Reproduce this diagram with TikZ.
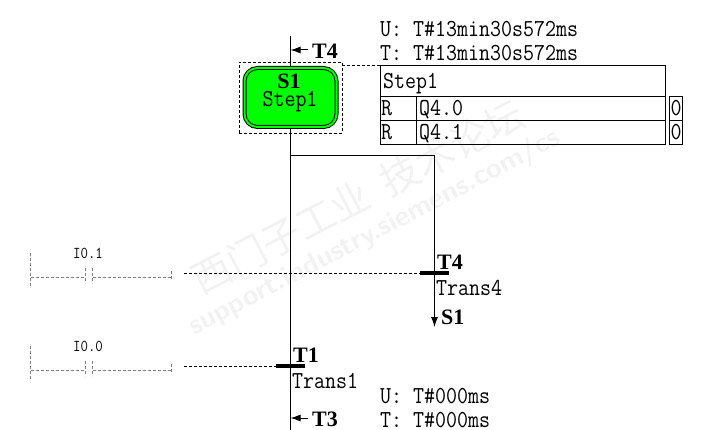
\documentclass[tikz,border=0pt]{standalone}
\usepackage{fontspec}
\usetikzlibrary{arrows.meta}
\setmainfont{Liberation Serif}
\setmonofont[FakeStretch=0.875]{Latin Modern Mono}
\newfontfamily\cjk{Noto Sans CJK SC}
\definecolor{stepgreen}{RGB}{0,255,0}
\definecolor{railgray}{RGB}{128,128,128}
\definecolor{markgray}{RGB}{242,242,242}
\tikzset{
	mono/.style={font=\ttfamily\fontsize{24.4}{24.4}\selectfont, inner sep=0pt, anchor=base west},
	tag/.style={font=\bfseries\fontsize{22}{22}\selectfont, inner sep=0pt, anchor=base west},
	small/.style={font=\ttfamily\fontsize{16.6}{16.6}\selectfont, inner sep=0pt, anchor=base},
	cell/.style={draw, line width=1pt, minimum height=24pt, inner sep=0pt, outer sep=0pt, anchor=north west},
	point/.style={inner sep=0pt, outer sep=0pt},
	bar/.style={line width=4pt},
	rail/.style={railgray, line width=.8pt, dash pattern=on 3pt off 2pt},
	wire/.style={line width=.9pt, dash pattern=on 3pt off 2pt},
	flow/.style={line width=1pt},
	tip/.style={-{Latex[length=10pt,width=7pt]}, line width=1pt}
}
\begin{document}
\begin{tikzpicture}[x=1pt, y=-1pt]
	\useasboundingbox (0, 0) rectangle (727, 430);
	
	\draw node[rotate=27.6, markgray, font=\cjk\fontsize{39}{39}\selectfont, inner sep=0pt] at (358, 197) (markcn) {西门子工业\ \ 技术论坛};
	\draw node[rotate=27.6, markgray, font=\sffamily\bfseries\fontsize{28}{28}\selectfont, inner sep=0pt] at (375, 233) (markweb) {support.industry.siemens.com/cs};
	
	\draw node[point] at (290.5, 36) (top) {};
	\draw node[point] at (290.5, 430) (bottom) {};
	\draw node[point] at (290.5, 155.5) (fork) {};
	\draw node[point] at (434.5, 155.5) (corner) {};
	\draw node[point] at (434.5, 327) (jump) {};
	\draw node[point] at (434.5, 273) (t4) {};
	\draw node[point] at (276, 366) (t1left) {};
	\draw node[point] at (305, 366) (t1right) {};
	\draw node[point] at (420, 273) (t4left) {};
	\draw node[point] at (449, 273) (t4right) {};
	
	\draw [flow]   (top) -- (bottom);
	\draw [flow]   (fork.center) -- (corner.center) -- (t4.center);
	\draw [tip]    (t4.center) -- (jump.center);
	\draw [bar]    (t1left.center) -- (t1right.center);
	\draw [bar]    (t4left.center) -- (t4right.center);
	
	\draw node[draw, line width=.7pt, dash pattern=on 3pt off 2pt, minimum width=103pt, minimum height=71pt, inner sep=0pt, outer sep=0pt] at (290.8, 97.8) (select) {};
	\draw node[draw, line width=1pt, fill=stepgreen, double=stepgreen, double distance=2pt, rounded corners=13pt, minimum width=92pt, minimum height=59pt, inner sep=0pt] at (290.5, 97.5) (step1) {};
	\draw node[tag, anchor=base] at (289, 89) (s1name) {S1};
	\draw node[mono, anchor=base] at (290, 107) (s1text) {Step1};
	
	\draw node[point] at (308, 50) (t4in) {};
	\draw node[point] at (308, 418) (t3in) {};
	\draw [tip]    (t4in.center) -- (top |- t4in);
	\draw [tip]    (t3in.center) -- (top |- t3in);
	\draw node[tag] at (312, 59) (t4from) {T4};
	\draw node[tag] at (312, 426) (t3from) {T3};
	
	\draw node[mono] at (380, 37) (uhead) {U: T\#13min30s572ms};
	\draw node[mono] at (380, 61) (thead) {T: T\#13min30s572ms};
	\draw node[cell, minimum width=285pt, minimum height=31pt] at (380.5, 65.5) (title) {};
	\draw node[cell, minimum width=36pt] at (380.5, 96.5) (r1) {};
	\draw node[cell, minimum width=249pt] at (416.5, 96.5) (q1) {};
	\draw node[cell, minimum width=36pt] at (380.5, 120.5) (r2) {};
	\draw node[cell, minimum width=249pt] at (416.5, 120.5) (q2) {};
	\draw node[cell, minimum width=13pt] at (669.5, 96.5) (o1) {};
	\draw node[cell, minimum width=13pt] at (669.5, 120.5) (o2) {};
	\draw node[mono] at (383, 89) (titletext) {Step1};
	\draw node[mono] at (381, 116) (r1text) {R};
	\draw node[mono] at (419, 116) (q1text) {Q4.0};
	\draw node[mono] at (381, 140) (r2text) {R};
	\draw node[mono] at (419, 140) (q2text) {Q4.1};
	\draw node[mono] at (670.5, 116) (o1text) {0};
	\draw node[mono] at (670.5, 140) (o2text) {0};
	\draw [wire]   (select.east |- title.north west) -- (title.north west);
	
	\draw node[tag] at (437, 269) (t4name) {T4};
	\draw node[mono] at (436, 295) (t4text) {Trans4};
	\draw node[tag] at (441, 324) (t4to) {S1};
	\draw node[tag] at (293, 362) (t1name) {T1};
	\draw node[mono] at (292, 388) (t1text) {Trans1};
	\draw node[mono] at (380, 403) (ulow) {U: T\#000ms};
	\draw node[mono] at (380, 427) (tlow) {T: T\#000ms};
	
	\foreach \y/\name/\lab in {0/one/I0.1, 93/zero/I0.0} {
		\draw node[small] at (88, 258+\y) (lab\name) {\lab};
		\draw node[point] at (30.5, 253+\y) (railtop\name) {};
		\draw node[point] at (30.5, 286+\y) (railend\name) {};
		\draw node[point] at (30.5, 277.5+\y) (railmid\name) {};
		\draw node[point] at (85.5, 277.5+\y) (conl\name) {};
		\draw node[point] at (85.5, 268+\y) (conlt\name) {};
		\draw node[point] at (85.5, 283+\y) (conlb\name) {};
		\draw node[point] at (92.5, 277.5+\y) (conr\name) {};
		\draw node[point] at (92.5, 268+\y) (conrt\name) {};
		\draw node[point] at (92.5, 283+\y) (conrb\name) {};
		\draw node[point] at (171.5, 277.5+\y) (wend\name) {};
		\draw node[point] at (171.5, 271+\y) (wendt\name) {};
		\draw node[point] at (171.5, 280+\y) (wendb\name) {};
		\draw node[point] at (184, 273+\y) (wstart\name) {};
		\draw [rail]   (railtop\name.center) -- (railend\name.center);
		\draw [rail]   (railmid\name.center) -- (conl\name.center);
		\draw [rail]   (conlt\name.center) -- (conlb\name.center);
		\draw [rail]   (conrt\name.center) -- (conrb\name.center);
		\draw [rail]   (conr\name.center) -- (wend\name.center);
		\draw [rail]   (wendt\name.center) -- (wendb\name.center);
	}
	\draw [wire]   (wstartone.center) -- (t4left.center);
	\draw [wire]   (wstartzero.center) -- (t1left.center);
\end{tikzpicture}
\end{document}
